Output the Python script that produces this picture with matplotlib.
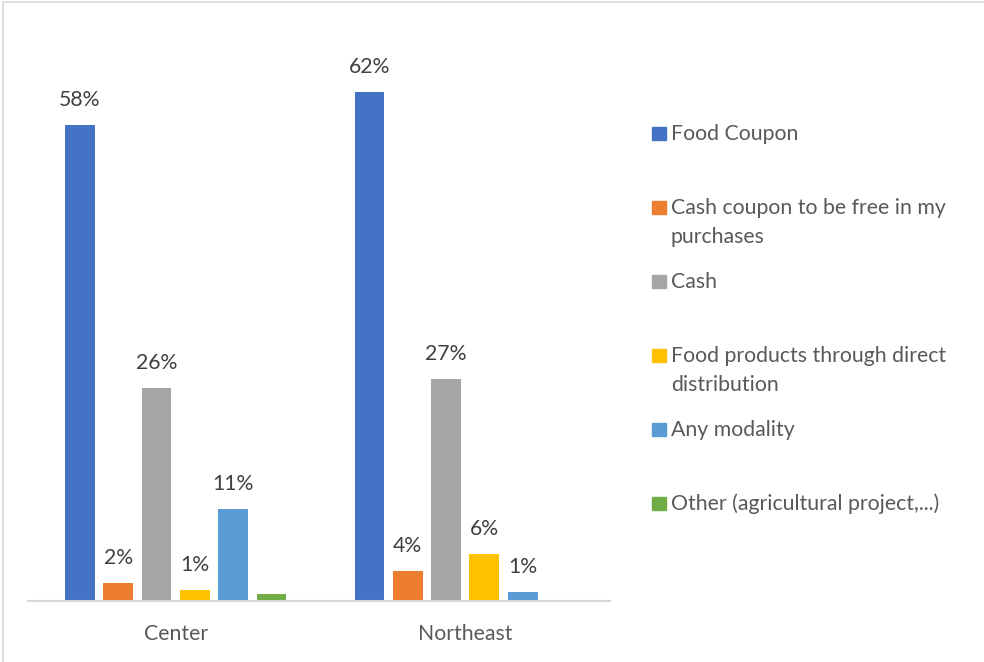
import numpy as np
import matplotlib.pyplot as plt
from matplotlib.patches import Rectangle

plt.rcParams['font.family'] = ['Lato', 'DejaVu Sans']

# Dados por região
regioes = ['Center', 'Northeast']
series = ['Food Coupon',
          'Cash coupon to be free in my\npurchases',
          'Cash',
          'Food products through direct\ndistribution',
          'Any modality',
          'Other (agricultural project,...)']
food_coupon = [58, 62]
cash_coupon = [2.2, 3.7]
cash = [26, 27]
food_products = [1.4, 5.7]
any_modality = [11.2, 1.1]
other = [0.9, 0]
valores = [food_coupon, cash_coupon, cash, food_products, any_modality, other]
mostra_rotulo = [True, True, True, True, True, False]
cores = ['#4472C4', '#ED7D31', '#A5A5A5', '#FFC000', '#5B9BD5', '#70AD47']

texto_cor = '#595959'
rotulo_cor = '#404040'
fs = 15.3

fig = plt.figure(figsize=(9.84, 6.62), dpi=100)
ax = fig.add_axes([28 / 984, 61 / 662, 582 / 984, 573 / 662])

x = np.arange(len(regioes))
passo = 0.1323
largura = 0.103
for i, (vals, cor) in enumerate(zip(valores, cores)):
    pos = x + (i - 2.5) * passo
    barras = ax.bar(pos, vals, width=largura, color=cor)
    if mostra_rotulo[i]:
        for b, v in zip(barras, vals):
            ax.annotate(f'{v:.0f}%', (b.get_x() + b.get_width() / 2, v),
                        xytext=(0, 18), textcoords='offset points',
                        ha='center', va='center', fontsize=fs, color=rotulo_cor)

ax.set_xlim(-0.51, 1.50)
ax.set_ylim(0, 69.8)
ax.set_xticks(x)
ax.set_xticklabels(regioes, fontsize=fs, color=texto_cor)
ax.tick_params(axis='x', length=0, pad=16.5)
ax.set_yticks([])
for lado in ['top', 'right', 'left']:
    ax.spines[lado].set_visible(False)
ax.spines['bottom'].set_color('#d9d9d9')
ax.spines['bottom'].set_linewidth(1.5)

# Legenda desenhada à mão, marcador alinhado com a primeira linha
W, H = 984, 662
for k, (nome, cor) in enumerate(zip(series, cores)):
    yc = 133 + k * 74.1
    fig.patches.append(Rectangle((652 / W, 1 - (yc + 6.5) / H), 13.5 / W, 13 / H,
                                 transform=fig.transFigure, color=cor))
    for j, linha in enumerate(nome.split('\n')):
        fig.text(671 / W, 1 - (yc + 7 + j * 29) / H, linha, ha='left',
                 va='baseline', fontsize=fs, color=texto_cor)

# Moldura da área do gráfico
fig.patches.append(Rectangle((3 / W, -0.05), 1.1, 1 - 1.5 / H + 0.05,
                             transform=fig.transFigure, fill=False,
                             edgecolor='#d9d9d9', linewidth=1.2))

fig.savefig('out.png', dpi=100)
